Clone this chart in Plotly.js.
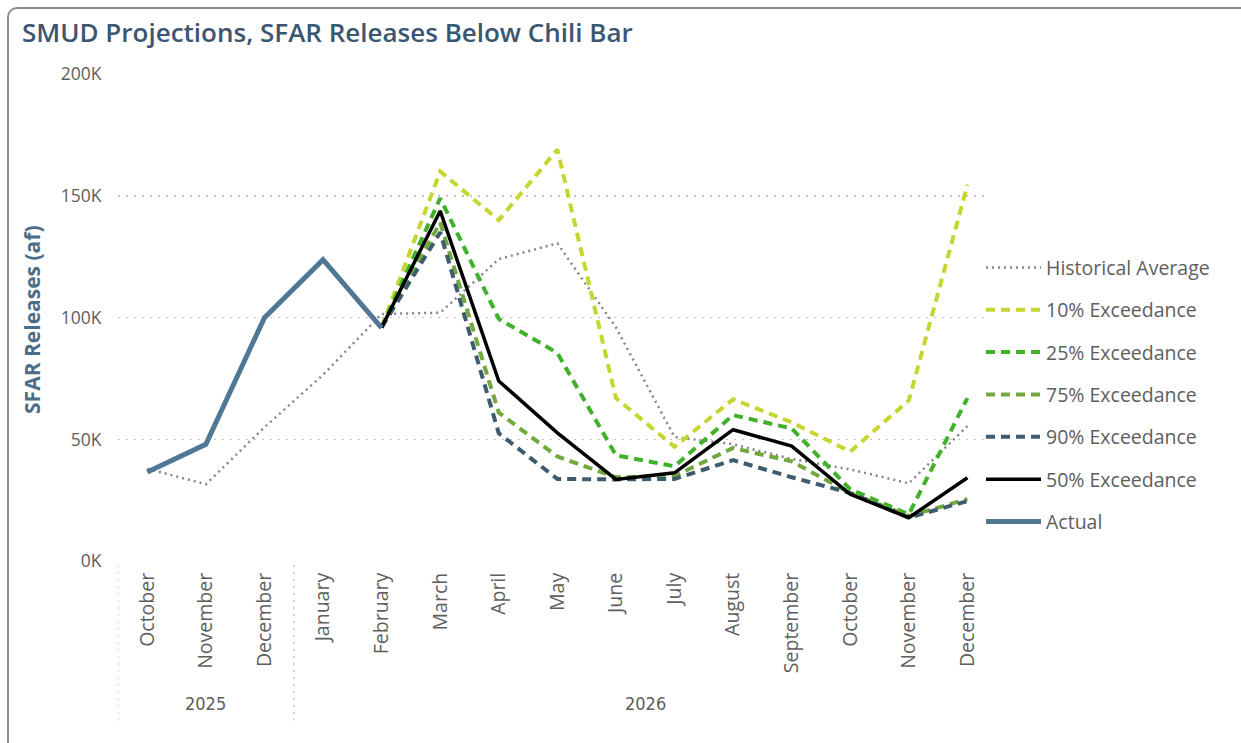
<!DOCTYPE html>
<html>
<head>
<meta charset="utf-8">
<script src="https://cdn.plot.ly/plotly-3.0.1.min.js"></script>
<style>
  html, body { margin: 0; padding: 0; background: #fff; overflow: hidden; }
  #chart { width: 1241px; height: 743px; }
  #frame { position: absolute; left: 7px; top: 7px; width: 1300px; height: 800px;
           border: 2px solid #8c8c8c; border-radius: 10px; pointer-events: none; }
</style>
</head>
<body>
<div id="chart"></div>
<div id="frame"></div>
<script>
// ---- data ----
const months = ["October","November","December","January","February","March","April","May","June","July","August","September","October","November","December"];
const years = ["2025","2026"];
const yearSpans = [[0, 2], [3, 14]];
const yTickVals = [0, 50000, 100000, 150000, 200000];
const yTickText = ["0K", "50K", "100K", "150K", "200K"];

const historical = [38000, 31600, 55000, 76500, 101500, 102000, 124000, 130500, 96000, 51000, 48000, 42000, 37700, 32000, 55500];
const exc10 = [null, null, null, null, 96000, 160000, 140000, 169000, 67000, 47000, 66500, 57000, 45000, 66000, 154500];
const exc25 = [null, null, null, null, 96000, 149000, 99500, 85500, 43500, 39000, 60000, 54500, 29500, 19300, 67000];
const exc75 = [null, null, null, null, 96000, 139000, 61000, 43000, 34500, 35000, 46500, 41000, 28000, 18600, 25500];
const exc90 = [null, null, null, null, 96000, 135000, 52500, 33800, 33600, 33800, 41500, 34500, 28000, 17900, 24700];
const exc50 = [null, null, null, null, 96000, 143800, 74000, 52700, 33600, 36300, 54000, 47300, 27500, 17900, 34300];
const actual = [36600, 48000, 100000, 123800, 95800, null, null, null, null, null, null, null, null, null, null];

const xIdx = months.map((m, i) => i);

const seriesDefs = [
  {name: "Historical Average", y: historical, color: "#858585", width: 2.5, dash: "2px,4px"},
  {name: "10% Exceedance", y: exc10, color: "#c6d631", width: 4, dash: "9px,6px"},
  {name: "25% Exceedance", y: exc25, color: "#3fb22a", width: 4, dash: "9px,6px"},
  {name: "75% Exceedance", y: exc75, color: "#72a83c", width: 4, dash: "9px,6px"},
  {name: "90% Exceedance", y: exc90, color: "#3f5b6e", width: 4, dash: "9px,6px"},
  {name: "50% Exceedance", y: exc50, color: "#000000", width: 3.5, dash: "solid"},
  {name: "Actual", y: actual, color: "#507894", width: 5, dash: "solid"}
];

const traces = seriesDefs.map((s, i) => ({
  type: "scatter",
  mode: "lines",
  name: s.name,
  legendgroup: "g" + i,
  x: xIdx,
  y: s.y,
  connectgaps: false,
  line: {color: s.color, width: s.width, dash: s.dash},
  hoverinfo: "x+y+name"
}));

const FONT = "Open Sans, Noto Sans, sans-serif";
const gray = "#605e5c";

const yearAnnotations = years.map((yr, i) => ({
  text: yr,
  x: (yearSpans[i][0] + yearSpans[i][1]) / 2,
  xref: "x",
  y: -0.289,
  yref: "paper",
  showarrow: false,
  xanchor: "center",
  yanchor: "middle",
  font: {family: "Liberation Sans Narrow, DejaVu Sans Condensed, Roboto, sans-serif", size: 18, color: gray}
}));

const sepShapes = yearSpans.map(sp => ({
  type: "line",
  xref: "x", yref: "paper",
  x0: sp[0] - 0.5, x1: sp[0] - 0.5,
  y0: -0.006, y1: -0.325,
  line: {color: "#c8c8c8", width: 1.5, dash: "2px,5px"}
}));

const plotW = 1241 - 118 - 256;

const layout = {
  width: 1241,
  height: 743,
  margin: {l: 118, r: 256, t: 74, b: 181},
  paper_bgcolor: "#ffffff",
  plot_bgcolor: "#ffffff",
  font: {family: FONT, color: gray},
  title: {
    text: "SMUD Projections, SFAR Releases Below Chili Bar",
    x: 22 / 1241, xref: "container", xanchor: "left",
    y: 1 - 33 / 743, yref: "container", yanchor: "middle",
    font: {family: FONT, size: 26, weight: 600, color: "#3b5670"}
  },
  xaxis: {
    range: [-0.5, 14.3],
    tickvals: xIdx,
    ticktext: months,
    tickangle: -90,
    ticks: "outside",
    ticklen: 2,
    tickcolor: "rgba(0,0,0,0)",
    tickfont: {family: FONT, size: 19.5, color: gray},
    showgrid: false,
    zeroline: false,
    showline: false,
    fixedrange: true
  },
  yaxis: {
    range: [-300, 200000],
    tickvals: yTickVals,
    ticktext: yTickText,
    ticks: "outside",
    ticklen: 12,
    tickcolor: "rgba(0,0,0,0)",
    tickfont: {family: FONT, size: 17.5, color: gray},
    showgrid: true,
    gridcolor: "#c4c4c4",
    gridwidth: 1.5,
    griddash: "2px,6px",
    zeroline: false,
    showline: false,
    fixedrange: true
  },
  legend: {
    x: 0.9954, xanchor: "left",
    y: 0.643, yanchor: "top",
    bgcolor: "rgba(0,0,0,0)",
    font: {family: FONT, size: 19.5, color: gray},
    tracegroupgap: 14,
    itemwidth: 55
  },
  annotations: [
    {
      text: "<b>SFAR Releases (af)</b>",
      textangle: -90,
      x: (32 - 118) / plotW, xref: "paper", xanchor: "center",
      y: 0.496, yref: "paper",
      showarrow: false,
      font: {family: FONT, size: 21, color: "#4b6d88"}
    }
  ].concat(yearAnnotations),
  shapes: sepShapes,
  showlegend: true
};

Plotly.newPlot("chart", traces, layout, {displayModeBar: false, staticPlot: true});
</script>
</body>
</html>
